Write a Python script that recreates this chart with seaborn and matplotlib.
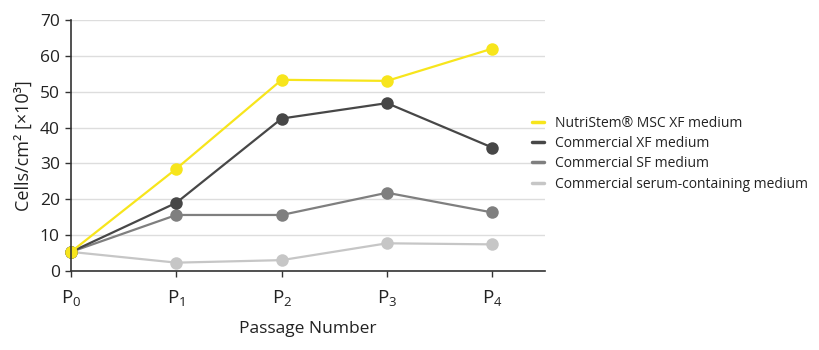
import numpy as np
import pandas as pd
import seaborn as sns
import matplotlib.pyplot as plt

passages = [0, 1, 2, 3, 4]
passage_labels = [r"P$_{0}$", r"P$_{1}$", r"P$_{2}$", r"P$_{3}$", r"P$_{4}$"]

media = [
    "NutriStem® MSC XF medium",
    "Commercial XF medium",
    "Commercial SF medium",
    "Commercial serum-containing medium",
]
nutristem = [5.3, 28.5, 53.3, 53.0, 62.0]
comm_xf = [5.3, 19.0, 42.5, 46.8, 34.4]
comm_sf = [5.3, 15.6, 15.6, 21.8, 16.3]
comm_serum = [5.3, 2.3, 3.0, 7.7, 7.4]
colors = ["#f7e51c", "#474747", "#7f7f7f", "#c6c6c6"]

rows = []
for name, vals in zip(media, [nutristem, comm_xf, comm_sf, comm_serum]):
    for p, v in zip(passages, vals):
        rows.append({"passage": p, "cells": v, "medium": name})
df = pd.DataFrame(rows)

sns.set_style("white")
plt.rcParams['font.family'] = ['Open Sans', 'DejaVu Sans']
plt.rcParams['mathtext.fontset'] = 'custom'
plt.rcParams['mathtext.rm'] = 'Open Sans'
plt.rcParams['mathtext.it'] = 'Open Sans'
plt.rcParams['mathtext.default'] = 'regular'

fig = plt.figure(figsize=(8.2, 3.5), dpi=100)
ax = fig.add_axes([0.0866, 0.226, 0.578, 0.717])

# draw in reverse so the yellow line sits on top
hue_order = media[::-1]
sns.lineplot(data=df, x="passage", y="cells", hue="medium", hue_order=hue_order,
             palette=dict(zip(media, colors)), marker="o", markersize=9,
             markeredgewidth=0, linewidth=1.6, ax=ax, legend=False)
for line in ax.lines:
    line.set_clip_on(False)

ax.set_xlim(0, 4.5)
ax.set_ylim(0, 70)
ax.set_yticks(range(0, 71, 10))
ax.set_xticks(passages)
ax.set_xticklabels(passage_labels)
ax.yaxis.grid(True, color="#dddddd", linewidth=1)
ax.set_axisbelow(True)
for s in ["top", "right"]:
    ax.spines[s].set_visible(False)
for s in ["left", "bottom"]:
    ax.spines[s].set_color("#333333")
    ax.spines[s].set_linewidth(1.2)
ax.tick_params(axis="both", which="major", direction="out", length=4, width=1,
               color="#333333", labelsize=12.5, labelcolor="#222222", pad=4, bottom=True, left=True)
ax.tick_params(axis="x", pad=8, labelsize=13.5)
ax.set_xlabel("Passage Number", fontsize=12.5, color="#222222", labelpad=10)
ax.set_ylabel("Cells/cm² [×10³]", fontsize=13, color="#222222", labelpad=5)

handles = [plt.Line2D([], [], color=c, linewidth=2.5) for c in colors]
fig.legend(handles, media, loc="upper left", bbox_to_anchor=(0.633, 0.705),
           frameon=False, fontsize=10, handlelength=0.9, handletextpad=0.8,
           labelspacing=0.38, labelcolor="#222222")

fig.savefig("out.png", dpi=100)
